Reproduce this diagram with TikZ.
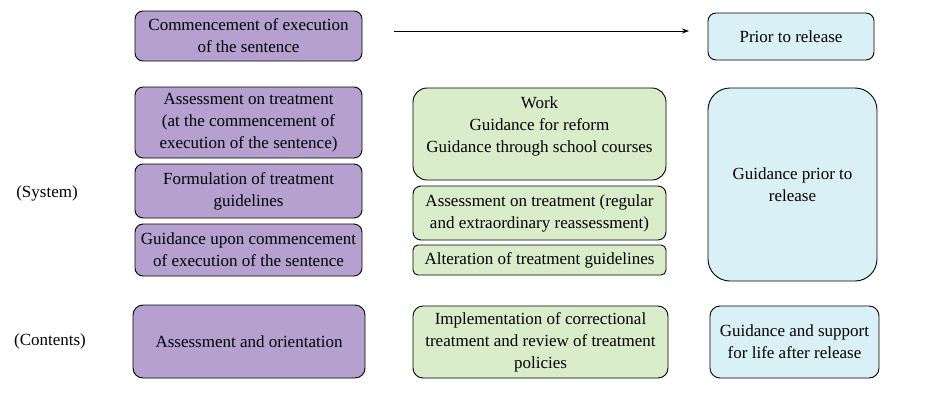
\documentclass[tikz,border=0pt]{standalone}
\usepackage{fontspec}
\setmainfont{Liberation Serif}
\usetikzlibrary{arrows.meta}
\definecolor{purp}{RGB}{181,160,208}
\definecolor{grn}{RGB}{217,237,203}
\definecolor{blu}{RGB}{218,240,247}
\tikzset{
  box/.style={draw=black, line width=0.9pt, rounded corners=8pt, inner sep=0pt, align=center,
    font=\fontsize{17}{22}\selectfont},
  pbox/.style={box, fill=purp},
  gbox/.style={box, fill=grn},
  bbox/.style={box, fill=blu},
  lbl/.style={inner sep=0pt, align=center, font=\fontsize{17}{22}\selectfont},
}
\begin{document}
\begin{tikzpicture}[x=1pt,y=-1pt]
\useasboundingbox (0,0) rectangle (937,410);
% column 1
\node[pbox, minimum width=227pt, minimum height=50pt] (A) at (248.5,36) {Commencement of execution\\of the sentence};
\node[pbox, minimum width=227pt, minimum height=71pt] (B) at (248.5,122.5) {Assessment on treatment\\(at the commencement of\\execution of the sentence)};
\node[pbox, minimum width=227pt, minimum height=54pt] (C) at (248.5,191) {Formulation of treatment\\guidelines};
\node[pbox, minimum width=227pt, minimum height=52pt] (D) at (248.5,250) {Guidance upon commencement\\of execution of the sentence};
\node[pbox, minimum width=232pt, minimum height=73pt, rounded corners=10pt] (E) at (249,341.5) {Assessment and orientation};
% column 2
\node[gbox, minimum width=253pt, minimum height=92pt, rounded corners=14pt] (F) at (539.5,134) {};
\node[lbl] (Ft) at ([yshift=8pt]F.center) {Work\\Guidance for reform\\Guidance through school courses};
\node[gbox, minimum width=253pt, minimum height=54pt] (G) at (539.5,213) {Assessment on treatment (regular\\and extraordinary reassessment)};
\node[gbox, minimum width=253pt, minimum height=30pt, rounded corners=5pt] (H) at (539.5,260) {Alteration of treatment guidelines};
\node[gbox, minimum width=255pt, minimum height=72pt, rounded corners=10pt] (I) at (540.5,342) {Implementation of correctional\\treatment and review of treatment\\policies};
% column 3
\node[bbox, minimum width=166pt, minimum height=47pt] (J) at (791,36.5) {Prior to release};
\node[bbox, minimum width=169pt, minimum height=193pt, rounded corners=22pt] (K) at (792.5,184.5) {Guidance prior to\\release};
\node[bbox, minimum width=169pt, minimum height=72pt, rounded corners=10pt] (L) at (794.5,342) {Guidance and support\\for life after release};
% labels
\node[lbl] (sys) at (47,193) {(System)};
\node[lbl] (con) at (50,341) {(Contents)};
% arrow
\coordinate (a1) at (394,31);
\coordinate (a2) at (689,31);
\draw[line width=0.9pt, -{Stealth[length=7pt,width=5pt]}] (a1) -- (a2);
\end{tikzpicture}
\end{document}
